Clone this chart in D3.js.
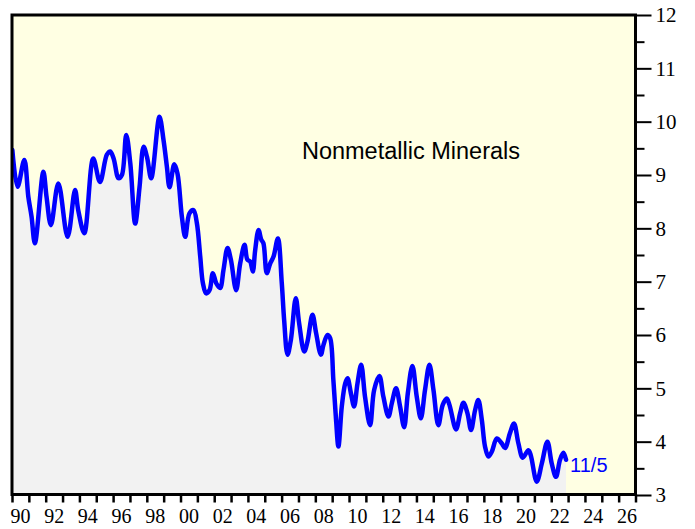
<!DOCTYPE html>
<html><head><meta charset="utf-8">
<script src="https://cdn.jsdelivr.net/npm/d3@7"></script>
<style>body{margin:0;background:#fff}</style>
</head><body>
<svg id="c" width="695" height="529"></svg>
<script>
const years = [1990.02,1990.33,1990.73,1990.97,1991.16,1991.36,1991.86,1992.05,1992.31,1992.75,1993.30,1993.74,1993.93,1994.29,1994.82,1995.22,1995.63,1995.83,1996.03,1996.32,1996.52,1996.78,1997.02,1997.31,1997.57,1997.81,1998.01,1998.26,1998.75,1998.99,1999.19,1999.35,1999.63,1999.82,2000.08,2000.28,2000.53,2000.77,2000.97,2001.17,2001.33,2001.52,2001.72,2001.92,2002.12,2002.35,2002.55,2002.79,2002.99,2003.30,2003.54,2003.80,2003.97,2004.13,2004.29,2004.43,2004.63,2004.79,2004.92,2005.12,2005.32,2005.52,2005.78,2006.01,2006.15,2006.35,2006.55,2006.84,2007.04,2007.34,2007.53,2007.83,2008.05,2008.33,2008.48,2008.72,2008.88,2009.07,2009.23,2009.37,2009.57,2009.77,2009.91,2010.11,2010.30,2010.50,2010.72,2010.95,2011.25,2011.49,2011.80,2012.04,2012.34,2012.54,2012.79,2013.03,2013.27,2013.49,2013.76,2014.02,2014.26,2014.51,2014.77,2015.01,2015.30,2015.56,2015.80,2015.96,2016.35,2016.59,2016.79,2017.03,2017.24,2017.48,2017.67,2017.88,2018.07,2018.27,2018.47,2018.77,2019.06,2019.26,2019.55,2019.79,2020.05,2020.31,2020.64,2020.78,2021.14,2021.44,2021.77,2022.03,2022.28,2022.52,2022.72,2022.88];
const values = [9.47,8.78,9.28,8.59,8.22,7.72,9.06,8.59,8.06,8.84,7.84,8.72,8.34,7.91,9.31,8.87,9.38,9.44,9.31,8.94,9.00,9.75,9.22,8.09,8.78,9.53,9.34,8.94,10.09,9.66,9.16,8.77,9.20,9.03,8.22,7.84,8.28,8.34,8.10,7.47,6.97,6.78,6.84,7.16,6.97,6.88,7.22,7.63,7.41,6.84,7.34,7.69,7.41,7.38,7.19,7.59,7.97,7.79,7.72,7.16,7.34,7.47,7.81,6.97,6.28,5.63,5.91,6.69,6.22,5.69,5.87,6.38,6.03,5.63,5.81,6.00,5.94,5.16,4.41,3.91,4.66,5.09,5.19,4.91,4.66,5.09,5.44,4.84,4.31,4.97,5.23,4.84,4.47,4.72,5.00,4.66,4.27,4.91,5.42,4.84,4.44,4.97,5.44,4.97,4.31,4.69,4.81,4.69,4.23,4.53,4.73,4.53,4.22,4.59,4.78,4.41,3.91,3.72,3.81,4.06,3.97,3.88,4.16,4.34,3.97,3.70,3.84,3.75,3.25,3.59,4.00,3.59,3.34,3.66,3.79,3.66];
const xTickYears = d3.range(1990, 2028);
const xLabelYears = d3.range(1990, 2027, 2);
const yMajor = d3.range(3, 13);
const yMinor = d3.range(3.5, 12, 1);
const title = "Nonmetallic Minerals";
const lastLabel = "11/5";

const L = 12, R = 635.5, T = 15, B = 494.5;
const svg = d3.select("#c");
const x = d3.scaleLinear().domain([1990, 2027]).range([L, R]);
const y = d3.scaleLinear().domain([3, 12]).range([495, 15]);
const data = years.map((d, i) => ({t: d, v: values[i]}));

svg.append("rect").attr("x", L).attr("y", T).attr("width", R - L).attr("height", B - T).attr("fill", "#ffffe3");
svg.append("defs").append("clipPath").attr("id", "clip").append("rect").attr("x", L).attr("y", T).attr("width", R - L).attr("height", B - T);
const g = svg.append("g").attr("clip-path", "url(#clip)");
g.append("path").datum(data)
  .attr("d", d3.area().x(d => x(d.t)).y0(y(3)).y1(d => y(d.v)).curve(d3.curveCatmullRom.alpha(0.5)))
  .attr("fill", "#f2f2f2");
g.append("path").datum(data)
  .attr("d", d3.line().x(d => x(d.t)).y(d => y(d.v)).curve(d3.curveCatmullRom.alpha(0.5)))
  .attr("fill", "none").attr("stroke", "#0000ff").attr("stroke-width", 4.5).attr("stroke-linejoin", "round").attr("stroke-linecap", "round");

svg.append("rect").attr("x", L).attr("y", T).attr("width", R - L).attr("height", B - T).attr("fill", "none").attr("stroke", "#000").attr("stroke-width", 3);

// x axis ticks
const xa = svg.append("g").attr("transform", `translate(0,${B})`);
xa.call(d3.axisBottom(x).tickValues(xTickYears).tickSize(8).tickFormat(""));
xa.select(".domain").remove();
xa.selectAll(".tick line").attr("stroke", "#000").attr("stroke-width", 2.5);
svg.append("g").selectAll("text").data(xLabelYears).join("text")
  .attr("x", d => x(d + 0.5)).attr("y", 523)
  .attr("text-anchor", "middle").attr("font-family", "Liberation Serif, Times New Roman, serif").attr("font-size", 20)
  .text(d => String(d % 100).padStart(2, "0"));

// y axis right
const ya = svg.append("g").attr("transform", `translate(${R},0)`);
ya.call(d3.axisRight(y).tickValues(yMajor).tickSize(16).tickPadding(4).tickFormat(d3.format("d")));
ya.select(".domain").remove();
ya.selectAll(".tick line").attr("stroke", "#000").attr("stroke-width", 2);
ya.selectAll(".tick text").attr("font-family", "Liberation Serif, Times New Roman, serif").attr("font-size", 21).attr("fill", "#000");
const ym = svg.append("g").attr("transform", `translate(${R},0)`);
ym.call(d3.axisRight(y).tickValues(yMinor).tickSize(9).tickFormat(""));
ym.select(".domain").remove();
ym.selectAll(".tick line").attr("stroke", "#000").attr("stroke-width", 2);

svg.append("text").attr("x", 411).attr("y", 159).attr("text-anchor", "middle")
  .attr("font-family", "Liberation Sans, Arial, sans-serif").attr("font-size", 23.5).attr("fill", "#000").text(title);
svg.append("text").attr("x", x(years[years.length - 1]) + 4).attr("y", 472)
  .attr("font-family", "Liberation Sans, Arial, sans-serif").attr("font-size", 20).attr("fill", "#0000ff").text(lastLabel);
</script>
</body></html>
